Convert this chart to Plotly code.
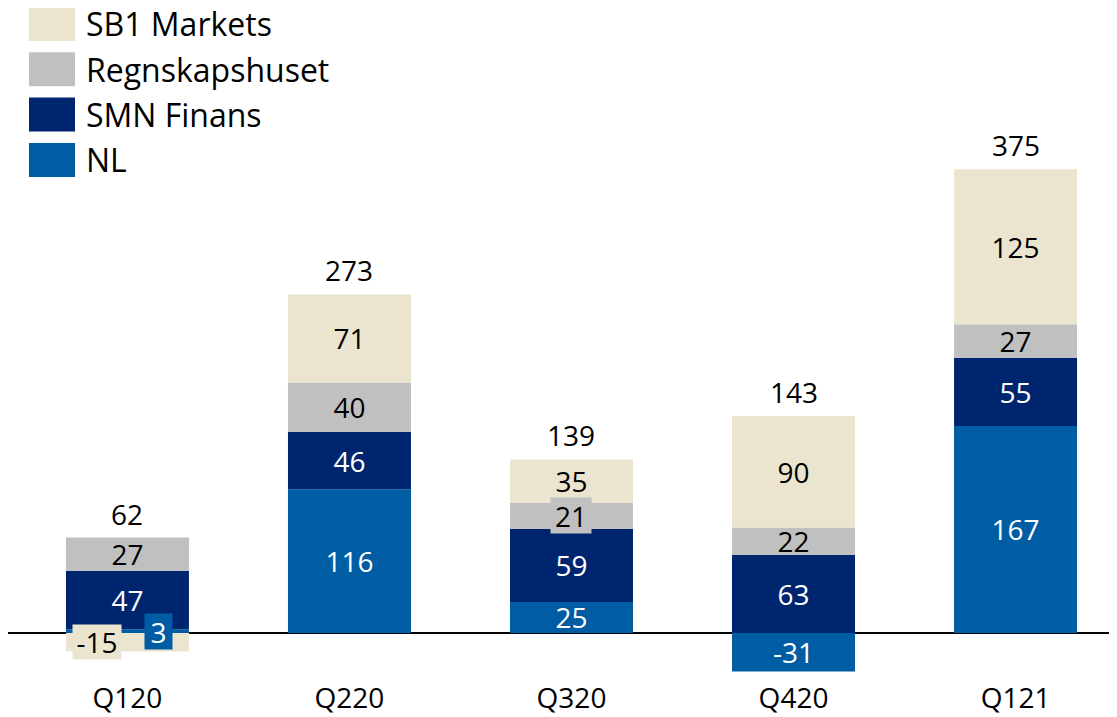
import plotly.graph_objects as go

# data
quarters = ["Q120", "Q220", "Q320", "Q420", "Q121"]
nl = [3, 116, 25, -31, 167]
smn_finans = [47, 46, 59, 63, 55]
regnskapshuset = [27, 40, 21, 22, 27]
sb1_markets = [-15, 71, 35, 90, 125]
totals = [62, 273, 139, 143, 375]

series = [
    ("NL", nl, "#005CA3", "white"),
    ("SMN Finans", smn_finans, "#00256F", "white"),
    ("Regnskapshuset", regnskapshuset, "#C0C0C0", "black"),
    ("SB1 Markets", sb1_markets, "#EBE5CF", "black"),
]

# labels that sit in their own little boxes instead of inside the bar
# (xshift, box width, box height)
boxed = {
    ("NL", "Q120"): (31, 27, 35),
    ("SB1 Markets", "Q120"): (-30, 48, 34),
    ("Regnskapshuset", "Q320"): (0, 40, 35),
}

FONT = "Open Sans"
W, H = 1109, 709          # page body has an 8px margin
PLOT_H = H - 38

fig = go.Figure()

pos_base = [0] * len(quarters)
neg_base = [0] * len(quarters)
annotations = []
for name, vals, color, tcolor in series:
    texts = []
    for i, (q, v) in enumerate(zip(quarters, vals)):
        if v >= 0:
            mid = pos_base[i] + v / 2
            pos_base[i] += v
        else:
            mid = neg_base[i] + v / 2
            neg_base[i] += v
        if (name, q) in boxed:
            dx, bw, bh = boxed[(name, q)]
            texts.append("")
            annotations.append(dict(
                x=q, y=mid, text=str(v), showarrow=False, xshift=dx,
                width=bw, height=bh, bgcolor=color, borderpad=0,
                font=dict(family=FONT, size=28, color=tcolor),
            ))
        else:
            texts.append(str(v))
    fig.add_trace(go.Bar(
        x=quarters, y=vals, name=name, marker_color=color, marker_line_width=0,
        text=texts, textposition="inside", insidetextanchor="middle", textangle=0,
        textfont=dict(family=FONT, size=28, color=tcolor),
        hoverinfo="skip", showlegend=False,
    ))

for q, t, top in zip(quarters, totals, pos_base):
    annotations.append(dict(
        x=q, y=top, text=str(t), showarrow=False, yanchor="bottom", yshift=3,
        font=dict(family=FONT, size=28, color="black"),
    ))

# hand-drawn legend with big swatches
shapes = []
for k, (name, vals, color, tcolor) in enumerate(reversed(series)):
    y0 = -1 + k * 45.3
    shapes.append(dict(
        type="rect", xref="paper", yref="paper",
        x0=21 / W, x1=67 / W,
        y0=1 - (y0 + 34) / PLOT_H, y1=1 - y0 / PLOT_H,
        fillcolor=color, line_width=0,
    ))
    annotations.append(dict(
        xref="paper", yref="paper", x=76 / W, y=1 - (y0 + 17) / PLOT_H,
        xanchor="left", yanchor="middle", text=name, showarrow=False,
        font=dict(family=FONT, size=32, color="black"),
    ))

fig.update_layout(
    barmode="relative",
    bargap=0.446,
    width=W, height=H,
    margin=dict(l=0, r=0, t=0, b=H - PLOT_H),
    plot_bgcolor="white", paper_bgcolor="white",
    uniformtext=dict(minsize=28, mode="show"),
    annotations=annotations,
    shapes=shapes,
    xaxis=dict(range=[-0.538, 4.457], showgrid=False, showline=False, ticks="",
               tickfont=dict(family=FONT, size=28, color="black")),
    yaxis=dict(range=[-37.1, 504.0], showgrid=False, showticklabels=False,
               zeroline=True, zerolinecolor="black", zerolinewidth=1.5),
)

fig.write_html("out.html")
